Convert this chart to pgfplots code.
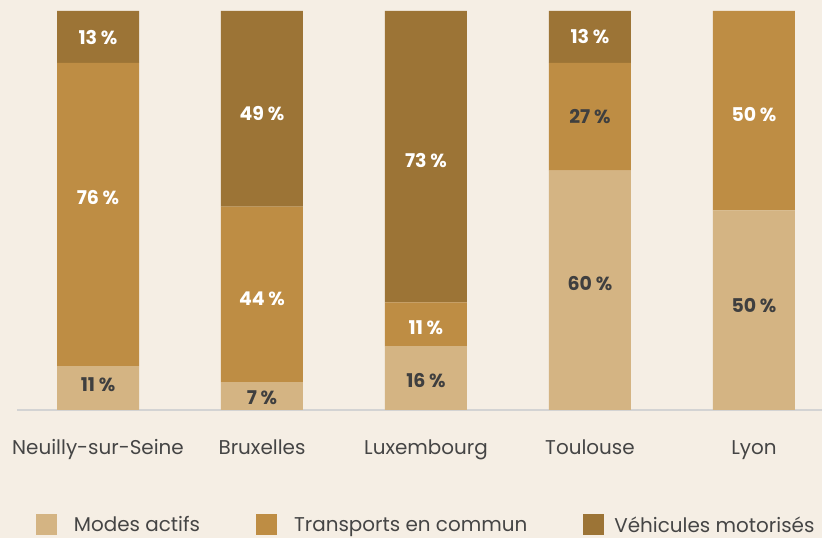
\documentclass[border=0pt]{standalone}
\usepackage{pgfplots}
\pgfplotsset{compat=1.18}
\usepackage{pgfplotstable}
\usepackage{fontspec}
\setmainfont{Poppins}
\definecolor{bgc}{HTML}{F5EEE4}
\definecolor{ca}{HTML}{D4B483}
\definecolor{cb}{HTML}{BE8D44}
\definecolor{cc}{HTML}{9C7436}
\definecolor{dk}{HTML}{3F3F3F}
\definecolor{tx}{HTML}{454545}
\definecolor{axl}{HTML}{D3D3D3}

\pgfplotstableread{
x v w off
0 11 0 3
1 7 0 -1.5
2 16 0 -2
3 60 0 7
4 50 0 5
}\actifs
\pgfplotstableread{
x v w off
0 76 100 17
1 44 100 -4.5
2 11 100 -3.5
3 27 0 0
4 50 100 -3.5
}\transports
\pgfplotstableread{
x v w off
0 13 100 -1
1 49 100 -4.5
2 73 100 -4
3 13 100 0
}\vehicules

\pgfplotsset{
  lsq/.style={legend image code/.code={\fill[##1] (0bp,-10.5bp) rectangle (21bp,10.5bp);}},
}

\begin{document}
\begin{tikzpicture}
\fill[bgc] (0,0) rectangle (822bp,538bp);
\begin{axis}[
  at={(17bp,128bp)}, anchor=south west,
  scale only axis, width=805bp, height=399bp,
  xmin=-0.494, xmax=4.415, ymin=0, ymax=100,
  ybar stacked, bar width=82bp,
  axis x line=bottom, axis y line=none,
  x axis line style={-, axl, line width=2bp},
  xtick={0,...,4},
  xticklabels={Neuilly-sur-Seine,Bruxelles,Luxembourg,Toulouse,Lyon},
  major tick length=0pt,
  xticklabel style={font=\fontsize{20}{20}\selectfont, text=tx, anchor=base, yshift=-44bp, inner sep=0pt},
  /pgf/number format/assume math mode=true,
  point meta=explicit,
  nodes near coords={\pgfmathprintnumber{\pgfplotspointmeta}\hspace{0.2em}\%},
  visualization depends on={\thisrow{w} \as \wv},
  visualization depends on={\thisrow{off} \as \off},
  every node near coord/.append style={anchor=center, text=white!\wv!dk,
     font=\bfseries\fontsize{19}{19}\selectfont, yshift={\off*1bp}},
  legend columns=3,
  legend style={at={(axis description cs:0.0236,-0.2882)}, anchor=west,
     draw=none, fill=none, inner sep=0pt, outer sep=0pt,
     font=\fontsize{20}{20}\selectfont, text=tx,
     /tikz/every even column/.append style={column sep=54bp},
     cells={anchor=west}},
  clip=false,
]
\addplot[fill=ca, draw=none, lsq] table[x=x, y=v, meta=v] {\actifs};
\addlegendentry{\hspace{15bp}Modes actifs}
\addplot[fill=cb, draw=none, lsq] table[x=x, y=v, meta=v] {\transports};
\addlegendentry{\hspace{15bp}Transports en commun}
\addplot[fill=cc, draw=none, lsq] table[x=x, y=v, meta=v] {\vehicules};
\addlegendentry{\hspace{8bp}Véhicules motorisés}
\end{axis}
\pgfresetboundingbox
\useasboundingbox (0,0) rectangle (822bp,538bp);
\end{tikzpicture}
\end{document}
